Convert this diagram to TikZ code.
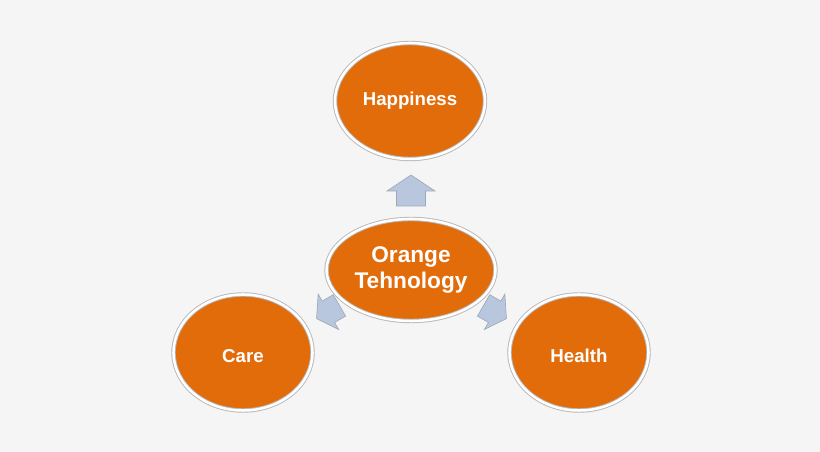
\documentclass[tikz,border=0pt]{standalone}
\usepackage{fontspec}
\setmainfont{Liberation Sans}
\usetikzlibrary{shapes.geometric,calc}
\definecolor{bgc}{HTML}{F5F5F5}
\definecolor{orangefill}{HTML}{E36C0A}
\definecolor{ringgray}{HTML}{B8B8B8}
\definecolor{arrowfill}{HTML}{B8C7DE}
\definecolor{arrowline}{HTML}{9EA8B8}
\tikzset{
  bubble/.style={ellipse, fill=orangefill, draw=ringgray, line width=0.7pt,
    double=white, double distance=1.9pt, inner sep=0pt,
    text=white, font=\bfseries\fontsize{14}{16}\selectfont, align=center},
  lowtext/.style={text height=14.5pt, text depth=0pt},
  blockarrow/.pic={
    \path[fill=arrowfill, draw=arrowline, line width=0.5pt, line join=miter]
      (0,15.5) -- (24,-0.5) -- (14.5,-0.5) -- (14.5,-15.5)
      -- (-14.5,-15.5) -- (-14.5,-0.5) -- (-24,-0.5) -- cycle;
  }
}
\begin{document}
\begin{tikzpicture}[x=0.75pt,y=0.75pt]
  \fill[bgc] (0,0) rectangle (820,452);
  \useasboundingbox (0,0) rectangle (820,452);
  \node[bubble, minimum width=150pt*0.75, minimum height=116pt*0.75] (happy) at (410,351) {Happiness};
  \node[bubble, minimum width=169pt*0.75, minimum height=102pt*0.75,
        font=\bfseries\fontsize{17}{19}\selectfont] (orange) at (411,182) {Orange\\Tehnology};
  \node[bubble, lowtext, minimum width=139pt*0.75, minimum height=116pt*0.75] (care) at (243,99.5) {Care};
  \node[bubble, lowtext, minimum width=139pt*0.75, minimum height=116pt*0.75] (health) at (579,99.5) {Health};
  \pic at ($(orange.center)+(0,79.5)$) {blockarrow};
  \pic[rotate=120, scale=0.85] at ($(orange.center)+(-83,-42)$) {blockarrow};
  \pic[rotate=-120, scale=0.85] at ($(orange.center)+(84,-42)$) {blockarrow};
\end{tikzpicture}
\end{document}
